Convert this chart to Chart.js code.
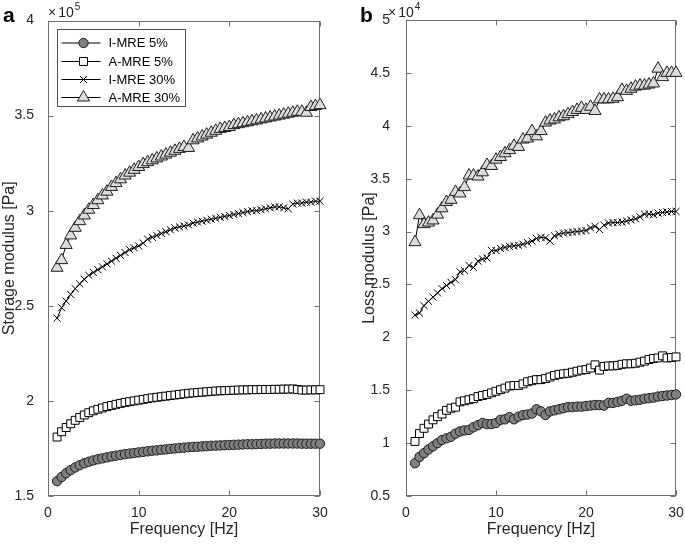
<!DOCTYPE html>
<html>
<head>
<meta charset="utf-8">
<script src="https://cdn.jsdelivr.net/npm/chart.js@4.4.1/dist/chart.umd.min.js"></script>
<style>
  html, body { margin: 0; padding: 0; background: #fff; }
  #wrap { position: relative; width: 685px; height: 544px; }
  #chartA { position: absolute; left: 0; top: 0; }
  #chartB { position: absolute; left: 340px; top: 0; }
</style>
</head>
<body>
<div id="wrap">
  <canvas id="chartA" width="340" height="544"></canvas>
  <canvas id="chartB" width="345" height="544"></canvas>
</div>
<script>
"use strict";

const FONT = '"Liberation Sans", Arial, Helvetica, sans-serif';
const TEXT_COLOR = "#262626";

// frequency sweep [Hz]
const frequency = [
  1, 1.5, 2, 2.5, 3, 3.5, 4, 4.5, 5, 5.5,
  6, 6.5, 7, 7.5, 8, 8.5, 9, 9.5, 10, 10.5,
  11, 11.5, 12, 12.5, 13, 13.5, 14, 14.5, 15, 15.5,
  16, 16.5, 17, 17.5, 18, 18.5, 19, 19.5, 20, 20.5,
  21, 21.5, 22, 22.5, 23, 23.5, 24, 24.5, 25, 25.5,
  26, 26.5, 27, 27.5, 28, 28.5, 29, 29.5, 30,
];

const seriesNames = ["I-MRE 5%", "A-MRE 5%", "I-MRE 30%", "A-MRE 30%"];

// storage modulus, x 10^5 Pa
const storageIMRE5 = [
  1.578, 1.600, 1.620, 1.636, 1.650, 1.662, 1.672, 1.680, 1.687, 1.693,
  1.698, 1.703, 1.708, 1.712, 1.716, 1.720, 1.723, 1.726, 1.729, 1.732,
  1.735, 1.738, 1.740, 1.743, 1.745, 1.748, 1.750, 1.752, 1.754, 1.756,
  1.758, 1.759, 1.761, 1.762, 1.764, 1.765, 1.766, 1.767, 1.768, 1.769,
  1.770, 1.771, 1.772, 1.772, 1.773, 1.774, 1.775, 1.775, 1.776, 1.776,
  1.776, 1.776, 1.776, 1.776, 1.775, 1.775, 1.775, 1.775, 1.775,
];
const storageAMRE5 = [
  1.810, 1.838, 1.860, 1.880, 1.898, 1.913, 1.926, 1.938, 1.948, 1.956,
  1.963, 1.970, 1.976, 1.982, 1.987, 1.992, 1.996, 2.000, 2.004, 2.008,
  2.012, 2.016, 2.019, 2.022, 2.025, 2.028, 2.031, 2.034, 2.037, 2.040,
  2.042, 2.044, 2.046, 2.048, 2.050, 2.052, 2.053, 2.054, 2.055, 2.056,
  2.057, 2.058, 2.058, 2.059, 2.059, 2.060, 2.060, 2.060, 2.061, 2.061,
  2.062, 2.062, 2.063, 2.060, 2.057, 2.057, 2.058, 2.058, 2.059,
];
const storageIMRE30 = [
  2.435, 2.490, 2.525, 2.560, 2.590, 2.615, 2.640, 2.660, 2.675, 2.690,
  2.705, 2.720, 2.735, 2.750, 2.765, 2.780, 2.795, 2.805, 2.815, 2.830,
  2.850, 2.860, 2.870, 2.880, 2.890, 2.900, 2.910, 2.915, 2.920, 2.925,
  2.935, 2.940, 2.945, 2.950, 2.955, 2.960, 2.965, 2.970, 2.975, 2.980,
  2.985, 2.990, 2.995, 3.000, 3.000, 3.005, 3.010, 3.015, 3.020, 3.020,
  3.015, 3.010, 3.035, 3.040, 3.040, 3.045, 3.045, 3.050, 3.050,
];
const storageAMRE30 = [
  2.700, 2.740, 2.820, 2.870, 2.910, 2.945, 2.975, 3.005, 3.030, 3.055,
  3.080, 3.100, 3.125, 3.145, 3.165, 3.185, 3.200, 3.215, 3.230, 3.245,
  3.255, 3.265, 3.275, 3.285, 3.295, 3.305, 3.315, 3.325, 3.335, 3.330,
  3.370, 3.380, 3.390, 3.400, 3.410, 3.420, 3.430, 3.435, 3.440, 3.450,
  3.455, 3.460, 3.465, 3.470, 3.475, 3.480, 3.485, 3.490, 3.495, 3.500,
  3.505, 3.510, 3.515, 3.520, 3.520, 3.515, 3.545, 3.550, 3.555,
];

// loss modulus, x 10^4 Pa
const lossIMRE5 = [
  0.810, 0.870, 0.905, 0.940, 0.970, 1.000, 1.030, 1.045, 1.060, 1.090,
  1.110, 1.120, 1.125, 1.150, 1.170, 1.190, 1.180, 1.180, 1.190, 1.220,
  1.225, 1.245, 1.225, 1.250, 1.265, 1.270, 1.280, 1.320, 1.300, 1.265,
  1.300, 1.310, 1.320, 1.330, 1.340, 1.340, 1.345, 1.345, 1.350, 1.355,
  1.360, 1.360, 1.355, 1.380, 1.380, 1.390, 1.400, 1.420, 1.400, 1.405,
  1.410, 1.420, 1.425, 1.430, 1.440, 1.445, 1.450, 1.455, 1.460,
];
const lossAMRE5 = [
  1.016, 1.090, 1.140, 1.180, 1.220, 1.250, 1.275, 1.310, 1.330, 1.340,
  1.390, 1.400, 1.410, 1.420, 1.440, 1.450, 1.460, 1.475, 1.490, 1.505,
  1.520, 1.540, 1.545, 1.545, 1.560, 1.580, 1.590, 1.600, 1.600, 1.610,
  1.625, 1.640, 1.650, 1.655, 1.660, 1.670, 1.680, 1.690, 1.695, 1.710,
  1.740, 1.690, 1.725, 1.730, 1.730, 1.735, 1.745, 1.750, 1.750, 1.755,
  1.765, 1.775, 1.790, 1.800, 1.805, 1.825, 1.805, 1.810, 1.815,
];
const lossIMRE30 = [
  2.210, 2.230, 2.300, 2.340, 2.380, 2.420, 2.460, 2.490, 2.520, 2.545,
  2.620, 2.630, 2.680, 2.660, 2.720, 2.740, 2.750, 2.820, 2.820, 2.840,
  2.850, 2.860, 2.865, 2.870, 2.880, 2.895, 2.910, 2.935, 2.945, 2.940,
  2.910, 2.960, 2.975, 2.985, 2.990, 2.995, 3.000, 3.005, 3.010, 3.035,
  3.050, 3.020, 3.060, 3.080, 3.085, 3.085, 3.090, 3.100, 3.110, 3.120,
  3.140, 3.165, 3.165, 3.160, 3.175, 3.180, 3.185, 3.190, 3.190,
];
const lossAMRE30 = [
  2.900, 3.155, 3.070, 3.085, 3.105, 3.160, 3.220, 3.280, 3.300, 3.375,
  3.360, 3.420, 3.530, 3.530, 3.520, 3.560, 3.630, 3.620, 3.680, 3.705,
  3.740, 3.770, 3.810, 3.800, 3.870, 3.880, 3.950, 3.900, 3.950, 4.030,
  4.050, 4.060, 4.080, 4.090, 4.110, 4.130, 4.150, 4.170, 4.150, 4.180,
  4.140, 4.250, 4.250, 4.250, 4.255, 4.270, 4.340, 4.330, 4.350, 4.370,
  4.380, 4.380, 4.390, 4.400, 4.540, 4.460, 4.500, 4.500, 4.500,
];

const frequencyTicks = [0, 10, 20, 30];

const markerStyles = [
  { pointStyle: "circle", radius: 4.7, fill: "#808080", edge: "#1e1e1e" },
  { pointStyle: "rect", radius: 5.6, fill: "#ffffff", edge: "#000000" },
  { pointStyle: "crossRot", radius: 5, fill: "#000000", edge: "#000000" },
  { pointStyle: "triangle", radius: 7, fill: "#dcdcdc", edge: "#1e1e1e" },
];

const toPoints = (values) => frequency.map((f, i) => ({ x: f, y: values[i] }));

const makeDatasets = (seriesList) =>
  seriesList.map((values, i) => ({
    label: seriesNames[i],
    data: toPoints(values),
    borderColor: "#000",
    borderWidth: 1,
    pointStyle: markerStyles[i].pointStyle,
    pointRadius: markerStyles[i].radius,
    pointHoverRadius: markerStyles[i].radius,
    pointBackgroundColor: markerStyles[i].fill,
    pointBorderColor: markerStyles[i].edge,
    pointBorderWidth: 1,
    tension: 0,
    clip: false,
  }));

// small marker painter for the legend
function drawMarker(ctx, style, x, y) {
  const r = style.radius;
  ctx.save();
  ctx.fillStyle = style.fill;
  ctx.strokeStyle = style.edge;
  ctx.lineWidth = 1;
  ctx.beginPath();
  if (style.pointStyle === "circle") {
    ctx.arc(x, y, r, 0, Math.PI * 2);
    ctx.fill();
    ctx.stroke();
  } else if (style.pointStyle === "rect") {
    const s = r / Math.SQRT2;
    ctx.rect(x - s, y - s, 2 * s, 2 * s);
    ctx.fill();
    ctx.stroke();
  } else if (style.pointStyle === "crossRot") {
    const s = r / Math.SQRT2;
    ctx.moveTo(x - s, y - s);
    ctx.lineTo(x + s, y + s);
    ctx.moveTo(x - s, y + s);
    ctx.lineTo(x + s, y - s);
    ctx.stroke();
  } else {
    const a = (2 * Math.PI) / 3;
    ctx.moveTo(x, y - r);
    ctx.lineTo(x + Math.sin(a) * r, y - Math.cos(a) * r);
    ctx.lineTo(x + Math.sin(2 * a) * r, y - Math.cos(2 * a) * r);
    ctx.closePath();
    ctx.fill();
    ctx.stroke();
  }
  ctx.restore();
}

// MATLAB style box with inward ticks, exponent, panel letter, legend
const matlabAxes = {
  id: "matlabAxes",
  beforeDatasetsDraw(chart, args, opts) {
    const { ctx, chartArea, scales } = chart;
    const L = Math.round(chartArea.left) + 0.5;
    const R = Math.round(chartArea.right) - 0.5;
    const T = Math.round(chartArea.top) + 0.5;
    const B = Math.round(chartArea.bottom) - 0.5;
    const tick = 5;
    ctx.save();
    ctx.strokeStyle = "#6f6f6f";
    ctx.lineWidth = 1;
    ctx.strokeRect(L, T, R - L, B - T);
    ctx.beginPath();
    scales.x.ticks.forEach((t) => {
      const px = Math.round(scales.x.getPixelForValue(t.value)) + 0.5;
      ctx.moveTo(px, B);
      ctx.lineTo(px, B - tick);
      ctx.moveTo(px, T);
      ctx.lineTo(px, T + tick);
    });
    scales.y.ticks.forEach((t) => {
      const py = Math.round(scales.y.getPixelForValue(t.value)) + 0.5;
      ctx.moveTo(L, py);
      ctx.lineTo(L + tick, py);
      ctx.moveTo(R, py);
      ctx.lineTo(R - tick, py);
    });
    ctx.stroke();
    ctx.restore();
  },
  afterDatasetsDraw(chart, args, opts) {
    const { ctx, chartArea } = chart;
    ctx.save();
    // panel letter
    ctx.fillStyle = "#000";
    ctx.font = "bold 21px " + FONT;
    ctx.textBaseline = "alphabetic";
    ctx.textAlign = "left";
    ctx.fillText(opts.letter, opts.letterX, 22);
    // exponent label
    ctx.fillStyle = TEXT_COLOR;
    ctx.font = "14px " + FONT;
    let x = opts.exponentX;
    ctx.fillText("\u00d7", x, 17);
    x += ctx.measureText("\u00d7").width + 2;
    ctx.fillText("10", x, 17);
    x += ctx.measureText("10").width + 1;
    ctx.font = "10px " + FONT;
    ctx.fillText(opts.exponent, x, 9.5);

    if (opts.legend) {
      const bx = Math.round(chartArea.left) + 9.5;
      const by = Math.round(chartArea.top) + 8.5;
      const bw = 128;
      const bh = 77;
      ctx.fillStyle = "#fff";
      ctx.fillRect(bx, by, bw, bh);
      ctx.strokeStyle = "#4d4d4d";
      ctx.lineWidth = 1;
      ctx.strokeRect(bx, by, bw, bh);
      const rows = [13.5, 32, 50, 68];
      ctx.font = "13px " + FONT;
      ctx.textBaseline = "middle";
      seriesNames.forEach((name, i) => {
        const ry = by + rows[i];
        ctx.beginPath();
        ctx.strokeStyle = "#000";
        ctx.moveTo(bx + 4, ry);
        ctx.lineTo(bx + 43, ry);
        ctx.stroke();
        drawMarker(ctx, markerStyles[i], bx + 26, ry);
        ctx.fillStyle = "#000";
        ctx.fillText(name, bx + 51, ry + 0.5);
      });
    }
    ctx.restore();
  },
};

const plainNumber = (v) => String(Number(v.toFixed(2)));

function makeChart(canvasId, seriesList, yRange, yTitle, extra) {
  return new Chart(document.getElementById(canvasId), {
    type: "line",
    data: { datasets: makeDatasets(seriesList) },
    options: {
      responsive: false,
      animation: false,
      events: [],
      layout: { padding: extra.padding },
      plugins: {
        legend: { display: false },
        tooltip: { enabled: false },
        matlabAxes: extra.panel,
      },
      scales: {
        x: {
          type: "linear",
          min: 0,
          max: 30,
          afterBuildTicks: (scale) => {
            scale.ticks = frequencyTicks.map((v) => ({ value: v }));
          },
          ticks: {
            font: { family: FONT, size: 14 },
            color: TEXT_COLOR,
            padding: 1,
            maxRotation: 0,
            callback: plainNumber,
          },
          grid: { display: false },
          border: { display: false },
          title: {
            display: true,
            text: "Frequency [Hz]",
            font: { family: FONT, size: 16 },
            color: TEXT_COLOR,
            padding: { top: 0, bottom: 5 },
          },
          afterFit: (scale) => {
            scale.height = 48;
          },
        },
        y: {
          type: "linear",
          min: yRange[0],
          max: yRange[1],
          ticks: {
            stepSize: 0.5,
            font: { family: FONT, size: 14 },
            color: TEXT_COLOR,
            padding: extra.tickPad,
            callback: plainNumber,
          },
          grid: { display: false },
          border: { display: false },
          title: {
            display: true,
            text: yTitle,
            font: { family: FONT, size: 16 },
            color: TEXT_COLOR,
            padding: 0,
          },
          afterFit: (scale) => {
            scale.width = extra.yWidth;
          },
        },
      },
    },
    plugins: [matlabAxes],
  });
}

makeChart(
  "chartA",
  [storageIMRE5, storageAMRE5, storageIMRE30, storageAMRE30],
  [1.5, 4],
  "Storage modulus [Pa]",
  {
    padding: { left: 0, right: 20, top: 20.5, bottom: 0 },
    yWidth: 48,
    tickPad: 6,
    panel: { letter: "a", letterX: 3, exponent: "5", exponentX: 48, legend: true },
  }
);

makeChart(
  "chartB",
  [lossIMRE5, lossAMRE5, lossIMRE30, lossAMRE30],
  [0.5, 5],
  "Loss modulus [Pa]",
  {
    padding: { left: 20, right: 9, top: 20, bottom: 0 },
    yWidth: 46,
    tickPad: 8,
    panel: { letter: "b", letterX: 20, exponent: "4", exponentX: 48, legend: false },
  }
);
</script>
</body>
</html>
